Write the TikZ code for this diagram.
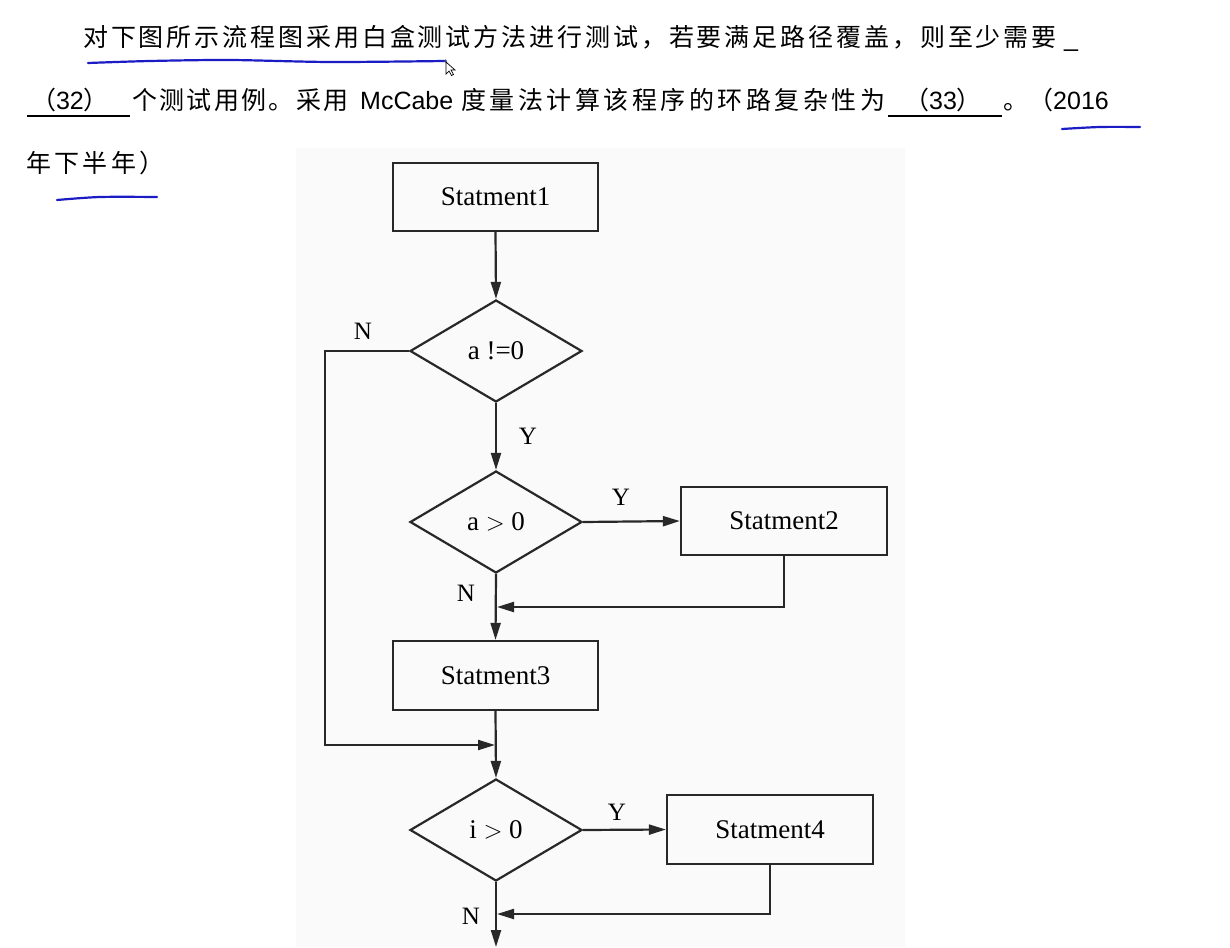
\documentclass[tikz,border=0pt]{standalone}
\usepackage{fontspec}
\setmainfont{Liberation Sans}
\newfontfamily\cjk{Noto Sans CJK SC}
\newfontfamily\flowfont{Liberation Serif}
\usetikzlibrary{shapes.geometric,arrows.meta}
\definecolor{pen}{RGB}{28,28,196}
\definecolor{ink}{RGB}{40,40,40}
\newlength\chw
\def\spc#1{\ifx#1\relax\else\makebox[\chw][l]{#1}\expandafter\spc\fi}
\newcommand\cjkrun[2]{{\cjk\setlength\chw{#1}\spc#2\relax}}
\tikzset{
  txt/.style={anchor=base west,inner sep=0pt,font=\fontsize{25}{25}\selectfont},
  stbox/.style={draw=ink,line width=2.2pt,rectangle,minimum width=205pt,minimum height=68pt,inner sep=0pt,font=\flowfont\fontsize{27}{27}\selectfont},
  decide/.style={draw=ink,line width=2.2pt,diamond,minimum width=172pt,minimum height=102pt,inner sep=0pt,font=\flowfont\fontsize{27}{27}\selectfont},
  lbl/.style={inner sep=0pt,font=\flowfont\fontsize{25}{25}\selectfont},
  flow/.style={draw=ink,line width=2.2pt,-{Triangle[length=17pt,width=10pt]}},
  hand/.style={draw=pen,line width=2.2pt,line cap=round}
}
\begin{document}
\begin{tikzpicture}[x=1pt,y=-1pt]
\useasboundingbox (0,0) rectangle (1230,947);
\fill[white] (0,0) rectangle (1230,947);
\fill[black!2] (296,148) rectangle (905,947);
% question text
\node[txt] (l1) at (83,47) {\cjkrun{27.9pt}{对下图所示流程图采用白盒测试方法进行测试，若要满足路径覆盖，则至少需要}};
\node[txt] (l1u) at (1064,47) {\_};
\node[txt,anchor=base] (q32) at (70,110) {{\cjk （}32{\cjk ）}};
\draw[line width=2pt] (27,116) -- (130,116);
\node[txt] (l2a) at (132,110) {\cjkrun{27.3pt}{个测试用例。采用}};
\node[txt] (l2b) at (360,110) {McCabe};
\node[txt] (l2c) at (461,110) {\cjkrun{28.5pt}{度量法计算该程序的环路复杂性为}};
\node[txt,anchor=base] (q33) at (943,110) {{\cjk （}33{\cjk ）}};
\draw[line width=2pt] (888,116) -- (1002,116);
\node[txt] (l2d) at (1003,110) {{\cjk 。（}2016};
\node[txt] (l3) at (26,172) {\cjkrun{28.3pt}{年下半年）}};
% handwriting
\draw[hand] plot[smooth] coordinates {(88,63) (150,61) (230,60) (330,62) (445,61)};
\draw[hand] plot[smooth] coordinates {(1062,129) (1100,127) (1140,127)};
\draw[hand] plot[smooth] coordinates {(57,200) (100,197) (157,197)};
\fill[pen!60!gray] (445.5,61) circle (1.6pt);
\draw[black,line width=0.7pt,fill=white] (446,62) -- (446,74) -- (449,71) -- (451.5,75.5) -- (453.5,74.5) -- (451,70) -- (455,70) -- cycle;
% flowchart
\node[stbox] (s1) at (495.5,197) {Statment1};
\node[decide] (d1) at (496,351) {a !=0};
\node[decide] (d2) at (496,522) {a $>$ 0};
\node[stbox,minimum width=206pt] (s2) at (784,521) {Statment2};
\node[stbox,minimum height=69pt] (s3) at (495.5,675.5) {Statment3};
\node[decide] (d3) at (496,830) {i $>$ 0};
\node[stbox,minimum width=206pt,minimum height=69pt] (s4) at (770,829.5) {Statment4};
\coordinate (m1) at (496,745);
\coordinate (m2) at (496,607);
\coordinate (m3) at (496,914);
\coordinate (bot) at (496,947);
\coordinate (nl) at (325,351);
\draw[flow] (s1.south) -- (d1.north);
\draw[flow] (d1.south) -- (d2.north);
\draw[flow] (d2.east) -- (s2.west);
\draw[flow] (d2.south) -- (s3.north);
\draw[flow,shorten >=1pt] (s2.south) |- (m2);
\draw[flow] (s3.south) -- (d3.north);
\draw[flow,shorten >=1pt] (d1.west) -- (nl) |- (m1);
\draw[flow] (d3.east) -- (s4.west);
\draw[flow,shorten >=1pt] (s4.south) |- (m3);
\draw[flow] (d3.south) -- (bot);
\node[lbl] (n1) at (363,331) {N};
\node[lbl] (y1) at (528,436) {Y};
\node[lbl] (y2) at (621,497) {Y};
\node[lbl] (n2) at (466,593) {N};
\node[lbl] (y3) at (617,812) {Y};
\node[lbl] (n3) at (471,916) {N};
\end{tikzpicture}
\end{document}
